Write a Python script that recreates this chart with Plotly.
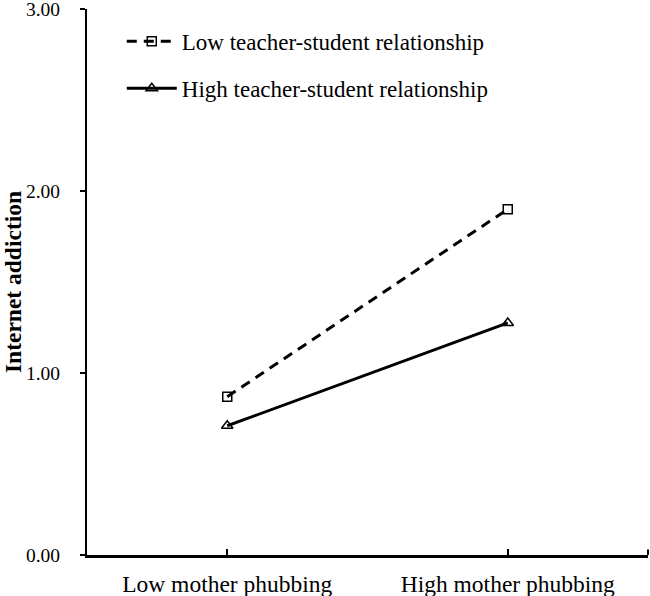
import plotly.graph_objects as go

# Simple-slopes data: internet addiction by mother phubbing level
categories = ["Low mother phubbing", "High mother phubbing"]
series_names = ["Low teacher-student relationship", "High teacher-student relationship"]
low_tsr = [0.87, 1.90]
high_tsr = [0.71, 1.275]
y_tick_vals = [0, 1, 2, 3]
y_tick_text = ["0.00", "1.00", "2.00", "3.00"]

FONT = "Liberation Serif, Times New Roman, serif"

fig = go.Figure()
fig.add_trace(go.Scatter(
    x=categories, y=low_tsr, name=series_names[0], mode="lines+markers",
    legendgroup="a",
    line=dict(color="black", width=3, dash="10px,7px"),
    marker=dict(symbol="square-open", size=9, color="black", line=dict(width=1.5)),
))
fig.add_trace(go.Scatter(
    x=categories, y=high_tsr, name=series_names[1], mode="lines+markers",
    legendgroup="b",
    line=dict(color="black", width=3),
    marker=dict(symbol="triangle-up-open", size=10, color="black", line=dict(width=1.5)),
))

# small tick at the right end of the category axis
fig.add_shape(type="line", xref="paper", yref="y", x0=1, x1=1, y0=0, y1=0.03,
              line=dict(color="black", width=2))

fig.update_layout(
    width=650, height=596,
    margin=dict(l=87, r=2, t=9, b=41),
    plot_bgcolor="white", paper_bgcolor="white",
    font=dict(family=FONT, color="black"),
    showlegend=True,
    legend=dict(
        x=0.062, y=0.98, xanchor="left", yanchor="top",
        font=dict(family=FONT, size=23, color="black"),
        itemwidth=50, tracegroupgap=14, bgcolor="rgba(0,0,0,0)",
    ),
    xaxis=dict(
        type="category", range=[-0.5, 1.5],
        showline=True, linecolor="black", linewidth=2.5,
        ticks="inside", ticklen=6, tickwidth=1.5, tickcolor="black",
        showgrid=False, zeroline=False,
        tickfont=dict(family=FONT, size=23.5, color="black"),
        ticklabelstandoff=6,
        automargin=False,
    ),
    yaxis=dict(
        range=[0, 3.0001], tickvals=y_tick_vals, ticktext=y_tick_text,
        showline=True, linecolor="black", linewidth=2,
        ticks="outside", ticklen=5, tickwidth=1.5, tickcolor="black",
        showgrid=False, zeroline=False,
        tickfont=dict(family=FONT, size=19.5, color="black"),
        ticklabelstandoff=16,
        ticklabeloverflow="allow",
        title=dict(text="<b>Internet addiction</b>", standoff=2,
                   font=dict(family=FONT, size=23.5, color="black")),
        automargin=False,
    ),
)

fig.write_html("out.html")
